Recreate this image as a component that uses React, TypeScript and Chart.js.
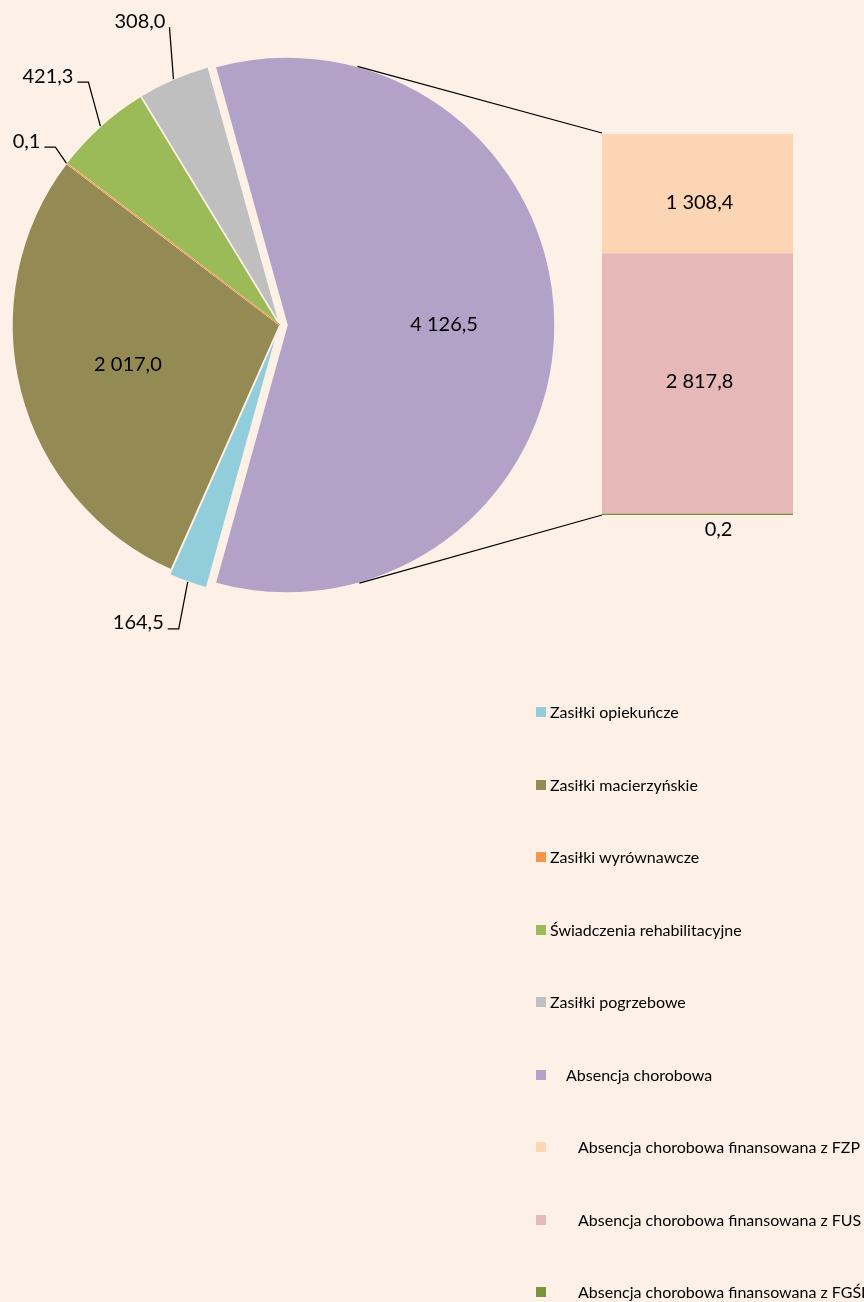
import React, { useEffect, useRef } from 'react';
import { Chart, registerables } from 'chart.js';

Chart.register(...registerables);

// ---------- data ----------
const pieLabels = [
  'Zasiłki opiekuńcze',
  'Zasiłki macierzyńskie',
  'Zasiłki wyrównawcze',
  'Świadczenia rehabilitacyjne',
  'Zasiłki pogrzebowe',
  'Absencja chorobowa',
];
const pieValues = [164.5, 2017.0, 0.1, 421.3, 308.0, 4126.5];
const pieColors = ['#92CDDC', '#948A54', '#F79646', '#9BBB59', '#BFBFBF', '#B2A2C7'];

// stacked from the bottom up
const barLabels = [
  'Absencja chorobowa finansowana z FGŚP',
  'Absencja chorobowa finansowana z FUS',
  'Absencja chorobowa finansowana z FZP',
];
const barValues = [0.2, 2817.8, 1308.4];
const barColors = ['#77933C', '#E6B9B8', '#FCD5B5'];

// ---------- style / layout ----------
const BG = '#FDF0E7';
const FONT = 'Lato, "Open Sans", sans-serif';
const PIE_RADIUS = 268;
const explode = [5, 0, 0, 0, 0, 7];
const inside = [false, true, false, false, false, true];
const outLayout: Record<number, { elbow: [number, number]; tail: number }> = {
  0: { elbow: [-9, 47], tail: -11 },
  2: { elbow: [-11, -16], tail: -11 },
  3: { elbow: [-12, -44], tail: -11 },
  4: { elbow: [-4, -52], tail: 0 },
};
const BAR_BOX = { left: 560, top: 100, width: 300, height: 470 };
const barLabelShift: [number, number, boolean][] = [
  [21, 15, true],
  [2, -2, false],
  [2, 9, false],
];

const fmt = (v: number) => {
  const [i, d] = v.toFixed(1).split('.');
  return i.replace(/\B(?=(\d{3})+(?!\d))/g, ' ') + ',' + d;
};

const total = pieValues.reduce((a, b) => a + b, 0);
const last = pieValues.length - 1;
const beforeLast = pieValues.slice(0, last).reduce((a, b) => a + b, 0);
// centre the last slice ("Absencja chorobowa") on the right-hand side
const rotation = 90 - (360 * (beforeLast + pieValues[last] / 2)) / total;
const barTotal = barValues.reduce((a, b) => a + b, 0);

export default function App() {
  const pieRef = useRef<HTMLCanvasElement>(null);
  const barRef = useRef<HTMLCanvasElement>(null);

  useEffect(() => {
    document.body.style.margin = '0';
    document.body.style.background = BG;
    document.body.style.overflow = 'hidden';

    const barLabelPlugin = {
      id: 'barLabels',
      afterDraw(chart: any) {
        const ctx = chart.ctx;
        ctx.save();
        ctx.font = `20px ${FONT}`;
        ctx.fillStyle = '#000';
        ctx.textAlign = 'center';
        ctx.textBaseline = 'middle';
        barValues.forEach((v, i) => {
          const el = chart.getDatasetMeta(i).data[0];
          const [dx, dy, below] = barLabelShift[i];
          const y = below ? el.base + dy : (el.y + el.base) / 2 + dy;
          ctx.fillText(fmt(v), el.x + dx, y);
        });
        ctx.restore();
      },
    };

    const bar = new Chart(barRef.current!, {
      type: 'bar',
      data: {
        labels: [''],
        datasets: barValues.map((v, i) => ({
          label: barLabels[i],
          data: [v],
          backgroundColor: barColors[i],
          borderWidth: 0,
          minBarLength: 1,
          barPercentage: 1,
          categoryPercentage: 1,
        })),
      },
      options: {
        responsive: false,
        animation: false,
        devicePixelRatio: 1,
        events: [],
        layout: { padding: { left: 42, right: 67, top: 34, bottom: 55 } },
        scales: {
          x: { stacked: true, display: false },
          y: { stacked: true, display: false, min: 0, max: barTotal },
        },
        plugins: { legend: { display: false }, tooltip: { enabled: false } },
      },
      plugins: [barLabelPlugin],
    });

    const geo = (el: any, i: number) => {
      const half = (el.startAngle + el.endAngle) / 2;
      const e = explode[i] || 0;
      return {
        half,
        cx: el.x + Math.cos(half) * e,
        cy: el.y + Math.sin(half) * e,
        r: el.outerRadius,
      };
    };

    const piePlugin = {
      id: 'pieExtras',
      beforeDatasetDraw(chart: any, args: any) {
        const ctx = chart.ctx;
        const els = args.meta.data;
        const order = els.map((_: any, i: number) => i).sort((a: number, b: number) => pieValues[b] - pieValues[a]);
        order.forEach((i: number) => {
          const el = els[i];
          const g = geo(el, i);
          ctx.save();
          ctx.translate(g.cx - el.x, g.cy - el.y);
          el.draw(ctx, chart.chartArea);
          ctx.restore();
        });
        return false;
      },
      afterDraw(chart: any) {
        const ctx = chart.ctx;
        const els = chart.getDatasetMeta(0).data;
        ctx.save();
        ctx.strokeStyle = '#000';
        ctx.fillStyle = '#000';
        ctx.lineWidth = 1.25;
        ctx.font = `20px ${FONT}`;
        ctx.textBaseline = 'middle';

        // connectors to the bar
        const pg = geo(els[last], last);
        const topEl = bar.getDatasetMeta(barValues.length - 1).data[0] as any;
        const botEl = bar.getDatasetMeta(0).data[0] as any;
        const corners = [
          { x: BAR_BOX.left + topEl.x - topEl.width / 2, y: BAR_BOX.top + topEl.y, s: -1 },
          { x: BAR_BOX.left + botEl.x - botEl.width / 2, y: BAR_BOX.top + botEl.base, s: 1 },
        ];
        corners.forEach((p) => {
          const dx = p.x - pg.cx;
          const dy = p.y - pg.cy;
          const d = Math.hypot(dx, dy);
          const th = Math.atan2(dy, dx) + p.s * Math.acos(pg.r / d);
          ctx.beginPath();
          ctx.moveTo(pg.cx + pg.r * Math.cos(th), pg.cy + pg.r * Math.sin(th));
          ctx.lineTo(p.x, p.y);
          ctx.stroke();
        });

        // slice labels
        els.forEach((el: any, i: number) => {
          const g = geo(el, i);
          const txt = fmt(pieValues[i]);
          if (inside[i]) {
            ctx.textAlign = 'center';
            const rr = g.r * 0.586;
            ctx.fillText(txt, g.cx + Math.cos(g.half) * rr, g.cy + Math.sin(g.half) * rr);
            return;
          }
          const lay = outLayout[i];
          if (!lay) return;
          const mx = g.cx + Math.cos(g.half) * g.r;
          const my = g.cy + Math.sin(g.half) * g.r;
          const ex = mx + lay.elbow[0];
          const ey = my + lay.elbow[1];
          ctx.beginPath();
          ctx.moveTo(mx, my);
          ctx.lineTo(ex, ey);
          if (lay.tail) ctx.lineTo(ex + lay.tail, ey);
          ctx.stroke();
          ctx.textAlign = 'right';
          ctx.fillText(txt, ex + lay.tail - 4, ey - 6);
        });
        ctx.restore();
      },
    };

    const pie = new Chart(pieRef.current!, {
      type: 'pie',
      data: {
        labels: pieLabels,
        datasets: [
          {
            data: pieValues,
            backgroundColor: pieColors,
            borderColor: pieColors.map((c, i) => (pieValues[i] < 1 ? c : BG)),
            borderWidth: pieValues.map((v) => (v < 1 ? 1 : 1.5)),
          },
        ],
      },
      options: {
        responsive: false,
        animation: false,
        devicePixelRatio: 1,
        events: [],
        rotation,
        radius: PIE_RADIUS,
        layout: { padding: { left: 0, right: 304, top: 0, bottom: 652 } },
        plugins: { legend: { display: false }, tooltip: { enabled: false } },
      } as any,
      plugins: [piePlugin],
    });

    return () => {
      pie.destroy();
      bar.destroy();
    };
  }, []);

  const legendItems = [
    ...pieLabels.map((l, i) => ({ label: l, color: pieColors[i], textLeft: i === last ? 566 : 550 })),
    ...barLabels
      .map((l, i) => ({ label: l, color: barColors[i], textLeft: 578 }))
      .reverse(),
  ];

  return (
    <div
      style={{
        position: 'relative',
        width: 864,
        height: 1302,
        background: BG,
        overflow: 'hidden',
        fontFamily: FONT,
      }}
    >
      <canvas
        ref={pieRef}
        width={864}
        height={1302}
        style={{ position: 'absolute', left: 0, top: 0, width: 864, height: 1302 }}
      />
      <canvas
        ref={barRef}
        width={BAR_BOX.width}
        height={BAR_BOX.height}
        style={{
          position: 'absolute',
          left: BAR_BOX.left,
          top: BAR_BOX.top,
          width: BAR_BOX.width,
          height: BAR_BOX.height,
        }}
      />
      {legendItems.map((it, k) => {
        const cy = 712 + k * 72.5;
        return (
          <React.Fragment key={k}>
            <div
              style={{
                position: 'absolute',
                left: 536,
                top: cy - 5,
                width: 10,
                height: 10,
                background: it.color,
              }}
            />
            <div
              style={{
                position: 'absolute',
                left: it.textLeft,
                top: cy - 10,
                height: 20,
                lineHeight: '20px',
                fontSize: 16,
                color: '#000',
                whiteSpace: 'nowrap',
              }}
            >
              {it.label}
            </div>
          </React.Fragment>
        );
      })}
    </div>
  );
}
